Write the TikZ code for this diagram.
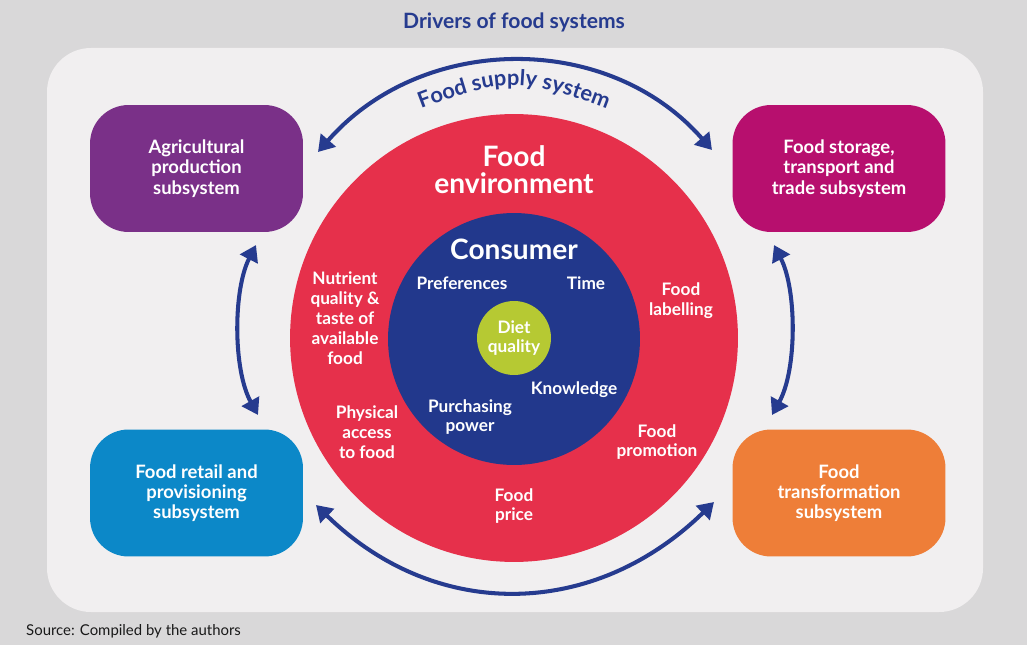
\documentclass[tikz,border=0pt]{standalone}
\usepackage{fontspec}
\setmainfont{Lato}
\usetikzlibrary{arrows.meta,decorations.text}

\definecolor{bggray}{HTML}{D9D8D9}
\definecolor{panelgray}{HTML}{F1EFF0}
\definecolor{darkblue}{HTML}{263B8F}
\definecolor{envred}{HTML}{E6304B}
\definecolor{consblue}{HTML}{22388C}
\definecolor{dietgreen}{HTML}{B6C933}
\definecolor{agripurple}{HTML}{7A3088}
\definecolor{storemagenta}{HTML}{B70F6E}
\definecolor{retailblue}{HTML}{0C88C8}
\definecolor{transforange}{HTML}{EE7E38}

\tikzstyle{subsystem} = [rounded corners=22pt,minimum width=4.26cm,minimum height=2.54cm,
	text=white,align=center,font=\bfseries\fontsize{10.5}{11.5}\selectfont]
\tikzstyle{ring} = [circle,inner sep=0pt]
\tikzstyle{driver} = [text=white,align=center,font=\bfseries\fontsize{9.8}{11.3}\selectfont]
\tikzstyle{bigtitle} = [text=white,align=center,font=\bfseries\fontsize{16}{15.5}\selectfont]
\tikzstyle{flow} = [draw=darkblue,line width=2.3pt,
	{Triangle[length=9pt,width=11pt]}-{Triangle[length=9pt,width=11pt]}]

\begin{document}
\begin{tikzpicture}[x=0.02cm,y=-0.02cm]
	\fill[bggray] (0,0) rectangle (1027,645);
	\useasboundingbox (0,0) rectangle (1027,645);
	\fill[panelgray,rounded corners=25pt] (47,48) rectangle (983,612);

	\node[text=darkblue,font=\bfseries\fontsize{12}{14}\selectfont] (title) at (514,22) {Drivers of food systems};
	\node[anchor=west,text=black!90,font=\fontsize{8.5}{10}\selectfont] (source) at (20,631) {Source: Compiled by the authors};

	% subsystems
	\node[subsystem,fill=agripurple] (agri) at (196.5,168.5) {Agricultural\\production\\subsystem};
	\node[subsystem,fill=storemagenta] (store) at (839,168.5) {Food storage,\\transport and\\trade subsystem};
	\node[subsystem,fill=retailblue] (retail) at (196.5,493) {Food retail and\\provisioning\\subsystem};
	\node[subsystem,fill=transforange] (transf) at (839,493) {Food\\transformation\\subsystem};

	% rings
	\node[ring,fill=envred,minimum size=8.96cm] (env) at (514,338) {};
	\node[ring,fill=consblue,minimum size=5.04cm] (cons) at (514,339) {};
	\node[ring,fill=dietgreen,minimum size=1.48cm] (diet) at (514,338) {};

	\node[bigtitle] (envlabel) at (514,170) {Food\\environment};
	\node[bigtitle] (conslabel) at (514,249) {Consumer};
	\node[driver] (pref) at (462,283) {Preferences};
	\node[driver] (time) at (586,283) {Time};
	\node[driver] (dietlabel) at (514,338) {Diet\\quality};
	\node[driver] (know) at (574,390) {Knowledge};
	\node[driver] (purch) at (470,417) {Purchasing\\power};
	\node[driver] (nutri) at (345,318) {Nutrient\\quality \&\\taste of\\available\\food};
	\node[driver] (label) at (681,301) {Food\\labelling};
	\node[driver] (access) at (367,432) {Physical\\access\\to food};
	\node[driver] (promo) at (657,442) {Food\\promotion};
	\node[driver] (price) at (514,506) {Food\\price};

	% arrow ends
	\coordinate (t1) at (318,152);
	\coordinate (t2) at (712,150);
	\coordinate (l1) at (256,245);
	\coordinate (l2) at (258,415);
	\coordinate (r1) at (774,245);
	\coordinate (r2) at (772,415);
	\coordinate (b1) at (316,505);
	\coordinate (b2) at (714,502);

	\draw[flow] (t1) .. controls (422,33) and (608,31) .. (t2);
	\draw[flow] (l1) .. controls (233,290) and (233,370) .. (l2);
	\draw[flow] (r1) .. controls (797,290) and (797,370) .. (r2);
	\draw[flow] (b1) .. controls (436,622) and (594,619) .. (b2);

	\path[decorate,decoration={text along path,text align=center,
		text={|\bfseries\fontsize{12.4}{14}\selectfont\color{darkblue}|Food supply system}}]
		(378,126) .. controls (514,72) .. (650,126);
\end{tikzpicture}
\end{document}
